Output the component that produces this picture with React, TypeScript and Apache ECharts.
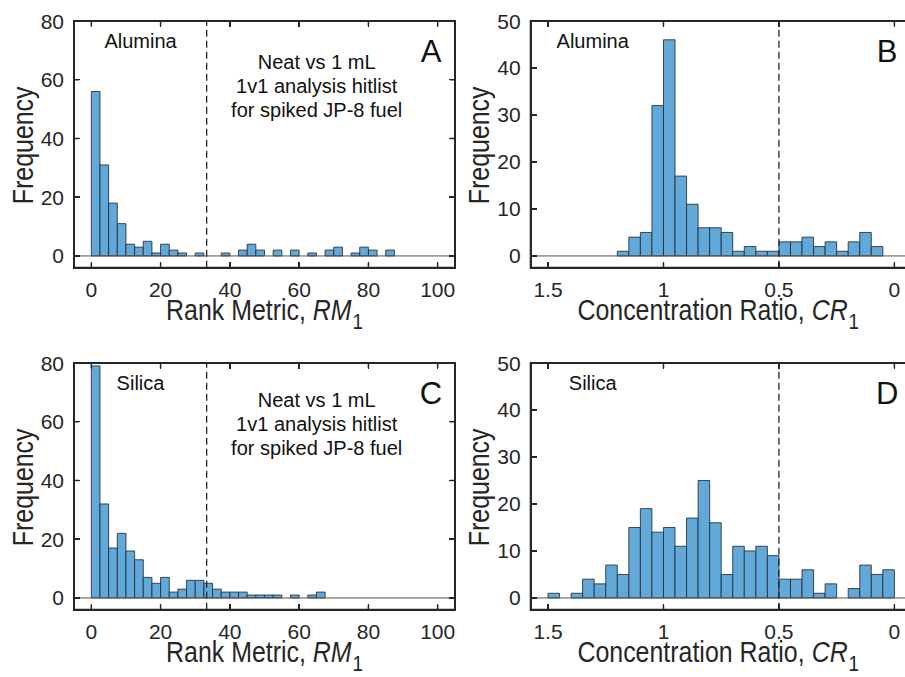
import React, { useEffect, useRef, useState } from "react";
import * as echarts from "echarts";

// ---------- data ----------
const rankBinWidth = 2.5;
const rankBinStart = 0;
const aluminaRankCounts = [56, 31, 18, 11, 4, 3, 5, 1, 4, 2, 1, 0, 1, 0, 0, 1, 0, 2, 4, 2, 0, 2, 0, 2, 0, 1, 0, 2, 3, 0, 1, 3, 2, 0, 2];
const silicaRankCounts = [79, 32, 17, 22, 16, 13, 7, 5, 7, 2, 3, 6, 6, 5, 3, 2, 2, 2, 1, 1, 1, 1, 0, 1, 0, 1, 2];

const ratioBinWidth = 0.05;
const ratioBinStart = 1.5; // bins run downward from 1.5
const aluminaRatioCounts = [0, 0, 0, 0, 0, 0, 1, 4, 5, 32, 46, 17, 11, 6, 6, 5, 1, 2, 1, 1, 3, 3, 4, 2, 3, 1, 3, 5, 2, 0];
const silicaRatioCounts = [1, 0, 1, 4, 3, 7, 5, 15, 19, 14, 15, 11, 17, 25, 16, 5, 11, 10, 11, 9, 4, 4, 6, 1, 3, 0, 2, 7, 5, 6];

const rankTicks = [0, 20, 40, 60, 80, 100];
const ratioTicks = [0, 0.5, 1, 1.5];
const freqTicks80 = [0, 20, 40, 60, 80];
const freqTicks50 = [0, 10, 20, 30, 40, 50];

const rankRange = [-5, 105];
const ratioRange = [-0.075, 1.575];
const freqRange80 = [-4, 80];
const freqRange50 = [-2.5, 50];

const rankThreshold = 33.3;
const ratioThreshold = 0.5;

const sampleLabels = ["Alumina", "Alumina", "Silica", "Silica"];
const panelLetters = ["A", "B", "C", "D"];
const noteText = "Neat vs 1 mL\n1v1 analysis hitlist\nfor spiked JP-8 fuel";

// ---------- helpers ----------
function rankBins(counts: number[]) {
  return counts
    .map((c, i) => [rankBinStart + i * rankBinWidth, rankBinStart + (i + 1) * rankBinWidth, 0, c])
    .filter((d) => d[3] > 0);
}
function ratioBins(counts: number[]) {
  return counts
    .map((c, i) => [ratioBinStart - (i + 1) * ratioBinWidth, ratioBinStart - i * ratioBinWidth, 0, c])
    .filter((d) => d[3] > 0);
}

const FONT = "'Liberation Sans', Arial, Helvetica, sans-serif";
const INK = "#262626";
const BAR_FILL = "#62a9da";
const BAR_EDGE = "rgba(35,45,55,0.85)";
const TICK_LEN = 5;
const TICK_W = 1.5;

const GRID_W = 381;
const GRID_H = 246.7;
const panels = [
  { left: 74, top: 21, kind: "rank", counts: aluminaRankCounts, yr: freqRange80, yt: freqTicks80 },
  { left: 530.7, top: 21, kind: "ratio", counts: aluminaRatioCounts, yr: freqRange50, yt: freqTicks50 },
  { left: 74, top: 363, kind: "rank", counts: silicaRankCounts, yr: freqRange80, yt: freqTicks80 },
  { left: 530.7, top: 363, kind: "ratio", counts: silicaRatioCounts, yr: freqRange50, yt: freqTicks50 },
];

function buildOption() {
  const grid: any[] = [];
  const xAxis: any[] = [];
  const yAxis: any[] = [];
  const series: any[] = [];
  const graphic: any[] = [];

  panels.forEach((p, k) => {
    const isRank = p.kind === "rank";
    const xr = isRank ? rankRange : ratioRange;
    const xt = isRank ? rankTicks : ratioTicks;
    grid.push({
      left: p.left,
      top: p.top,
      width: GRID_W,
      height: GRID_H,
      outerBoundsMode: "none",
      containLabel: false,
      show: false,
    });
    const fmt = (ticks: number[]) => (v: number) =>
      ticks.some((t) => Math.abs(t - v) < 1e-6) ? String(+v.toFixed(2)) : "";
    xAxis.push({
      type: "value",
      gridIndex: k,
      min: xr[0],
      max: xr[1],
      inverse: !isRank,
      position: "bottom",
      axisLine: { show: false, onZero: false },
      splitLine: { show: false },
      axisTick: { show: false },
      axisLabel: {
        customValues: xt,
        formatter: fmt(xt),
        margin: 11,
        fontSize: 21,
        fontFamily: FONT,
        color: INK,
      },
    });
    yAxis.push({
      type: "value",
      gridIndex: k,
      min: p.yr[0],
      max: p.yr[1],
      position: "left",
      axisLine: { show: false, onZero: false },
      splitLine: { show: false },
      axisTick: { show: false },
      axisLabel: {
        customValues: p.yt,
        formatter: fmt(p.yt),
        margin: 10,
        fontSize: 21,
        fontFamily: FONT,
        color: INK,
      },
    });

    // histogram bars; the first item also carries the panel's frame and ticks
    series.push({
      type: "custom",
      xAxisIndex: k,
      yAxisIndex: k,
      silent: true,
      clip: false,
      data: isRank ? rankBins(p.counts) : ratioBins(p.counts),
      encode: { x: [0, 1], y: [2, 3] },
      z: 2,
      renderItem: (params: any, api: any) => {
        const a = api.coord([api.value(0), api.value(3)]);
        const b = api.coord([api.value(1), api.value(2)]);
        const bar = {
          type: "rect",
          shape: {
            x: Math.min(a[0], b[0]),
            y: Math.min(a[1], b[1]),
            width: Math.abs(b[0] - a[0]),
            height: Math.abs(b[1] - a[1]),
          },
          style: { fill: BAR_FILL, stroke: BAR_EDGE, lineWidth: 1 },
        };
        if (params.dataIndex !== 0) return bar;
        const cs = params.coordSys;
        const L = cs.x, T = cs.y, R = cs.x + cs.width, B = cs.y + cs.height;
        const kids: any[] = [bar];
        xt.forEach((v) => {
          const px = api.coord([v, 0])[0];
          kids.push({ type: "line", shape: { x1: px, y1: B, x2: px, y2: B - TICK_LEN }, style: { stroke: INK, lineWidth: TICK_W } });
          kids.push({ type: "line", shape: { x1: px, y1: T, x2: px, y2: T + TICK_LEN }, style: { stroke: INK, lineWidth: TICK_W } });
        });
        p.yt.forEach((v) => {
          const py = api.coord([xt[0], v])[1];
          kids.push({ type: "line", shape: { x1: L, y1: py, x2: L + TICK_LEN, y2: py }, style: { stroke: INK, lineWidth: TICK_W } });
          kids.push({ type: "line", shape: { x1: R, y1: py, x2: R - TICK_LEN, y2: py }, style: { stroke: INK, lineWidth: TICK_W } });
        });
        kids.push({
          type: "rect",
          shape: { x: L, y: T, width: cs.width, height: cs.height },
          style: { fill: "none", stroke: INK, lineWidth: 2 },
        });
        return { type: "group", children: kids };
      },
    });

    // zero baseline
    series.push({
      type: "line",
      xAxisIndex: k,
      yAxisIndex: k,
      silent: true,
      symbol: "none",
      data: [
        [xr[0], 0],
        [xr[1], 0],
      ],
      lineStyle: { color: "#555", width: 1 },
      z: 3,
    });
    // dashed threshold
    const th = isRank ? rankThreshold : ratioThreshold;
    series.push({
      type: "line",
      xAxisIndex: k,
      yAxisIndex: k,
      silent: true,
      symbol: "none",
      data: [
        [th, p.yr[0]],
        [th, p.yr[1]],
      ],
      lineStyle: { color: INK, width: 1.3, type: [7, 4] },
      z: 4,
    });

    // axis titles
    const cx = p.left + GRID_W / 2 - (isRank ? 0 : 3);
    const titleText = isRank ? "{a|Rank Metric, }{i|RM}{s|1}" : "{a|Concentration Ratio, }{i|CR}{s|1}";
    graphic.push({
      type: "text",
      x: cx,
      y: p.top + GRID_H + 43,
      scaleX: 0.86,
      silent: true,
      style: {
        text: titleText,
        align: "center",
        verticalAlign: "middle",
        rich: {
          a: { fontSize: 29, fontFamily: FONT, fill: INK, lineHeight: 34 },
          i: { fontSize: 29, fontFamily: FONT, fill: INK, lineHeight: 34, fontStyle: "italic" },
          s: { fontSize: 22, fontFamily: FONT, fill: INK, lineHeight: 34, padding: [20, 0, 0, 1] },
        },
      },
    });
    graphic.push({
      type: "text",
      x: p.left - 51,
      y: p.top + GRID_H / 2 + 1,
      rotation: Math.PI / 2,
      scaleX: 0.86,
      silent: true,
      style: {
        text: "Frequency",
        fontSize: 29,
        fontFamily: FONT,
        fill: INK,
        align: "center",
        verticalAlign: "middle",
      },
    });
    graphic.push({
      type: "text",
      x: isRank ? p.left + 66.5 : p.left + 62,
      y: p.top + 19.5,
      silent: true,
      style: {
        text: sampleLabels[k],
        fontSize: 20,
        fontFamily: FONT,
        fill: "#111",
        align: "center",
        verticalAlign: "middle",
      },
    });
    graphic.push({
      type: "text",
      x: isRank ? p.left + 357 : p.left + 356.5,
      y: p.top + 30,
      silent: true,
      style: {
        text: panelLetters[k],
        fontSize: 31,
        fontFamily: FONT,
        fill: "#111",
        align: "center",
        verticalAlign: "middle",
      },
    });
    if (isRank) {
      graphic.push({
        type: "text",
        x: p.left + 242.7,
        y: p.top + (k === 0 ? 65 : 61),
        silent: true,
        style: {
          text: noteText,
          fontSize: 20,
          lineHeight: 24,
          fontFamily: FONT,
          fill: "#111",
          align: "center",
          verticalAlign: "middle",
        },
      });
    }
  });

  return {
    animation: false,
    grid,
    xAxis,
    yAxis,
    series,
    graphic,
  };
}

type Overlay = { xs: number[]; ys: number[] }[];

export default function App() {
  const ref = useRef<HTMLDivElement>(null);
  const [overlay, setOverlay] = useState<Overlay>([]);
  useEffect(() => {
    if (!ref.current) return;
    const chart = echarts.init(ref.current, undefined, { renderer: "svg" });
    chart.setOption(buildOption() as any);
    // tick positions taken from the chart's own axes, used for the frame overlay
    const ov = panels.map((p, k) => {
      const xt = p.kind === "rank" ? rankTicks : ratioTicks;
      return {
        xs: xt.map((v) => chart.convertToPixel({ xAxisIndex: k } as any, v) as number),
        ys: p.yt.map((v) => chart.convertToPixel({ yAxisIndex: k } as any, v) as number),
      };
    });
    setOverlay(ov);
    return () => chart.dispose();
  }, []);

  const frames: React.ReactNode[] = [];
  overlay.forEach((o, k) => {
    const p = panels[k];
    const L = p.left, T = p.top, R = p.left + GRID_W, B = p.top + GRID_H;
    frames.push(
      <div
        key={`f${k}`}
        style={{
          position: "absolute",
          left: L - 1,
          top: T - 1,
          width: GRID_W + 2,
          height: GRID_H + 2,
          border: `2px solid ${INK}`,
          boxSizing: "border-box",
          pointerEvents: "none",
        }}
      />
    );
    o.xs.forEach((px, i) => {
      frames.push(
        <div key={`xb${k}-${i}`} style={{ position: "absolute", left: px - TICK_W / 2, top: B - TICK_LEN - 1, width: TICK_W, height: TICK_LEN, background: INK, pointerEvents: "none" }} />
      );
      frames.push(
        <div key={`xt${k}-${i}`} style={{ position: "absolute", left: px - TICK_W / 2, top: T + 1, width: TICK_W, height: TICK_LEN, background: INK, pointerEvents: "none" }} />
      );
    });
    o.ys.forEach((py, i) => {
      frames.push(
        <div key={`yl${k}-${i}`} style={{ position: "absolute", left: L + 1, top: py - TICK_W / 2, width: TICK_LEN, height: TICK_W, background: INK, pointerEvents: "none" }} />
      );
      frames.push(
        <div key={`yr${k}-${i}`} style={{ position: "absolute", left: R - TICK_LEN - 1, top: py - TICK_W / 2, width: TICK_LEN, height: TICK_W, background: INK, pointerEvents: "none" }} />
      );
    });
  });

  return (
    <div style={{ position: "fixed", left: 0, top: 0, width: 905, height: 677, overflow: "hidden", background: "#fff" }}>
      <div ref={ref} style={{ position: "absolute", left: 0, top: 0, width: 905, height: 677 }} />
      {frames}
    </div>
  );
}
